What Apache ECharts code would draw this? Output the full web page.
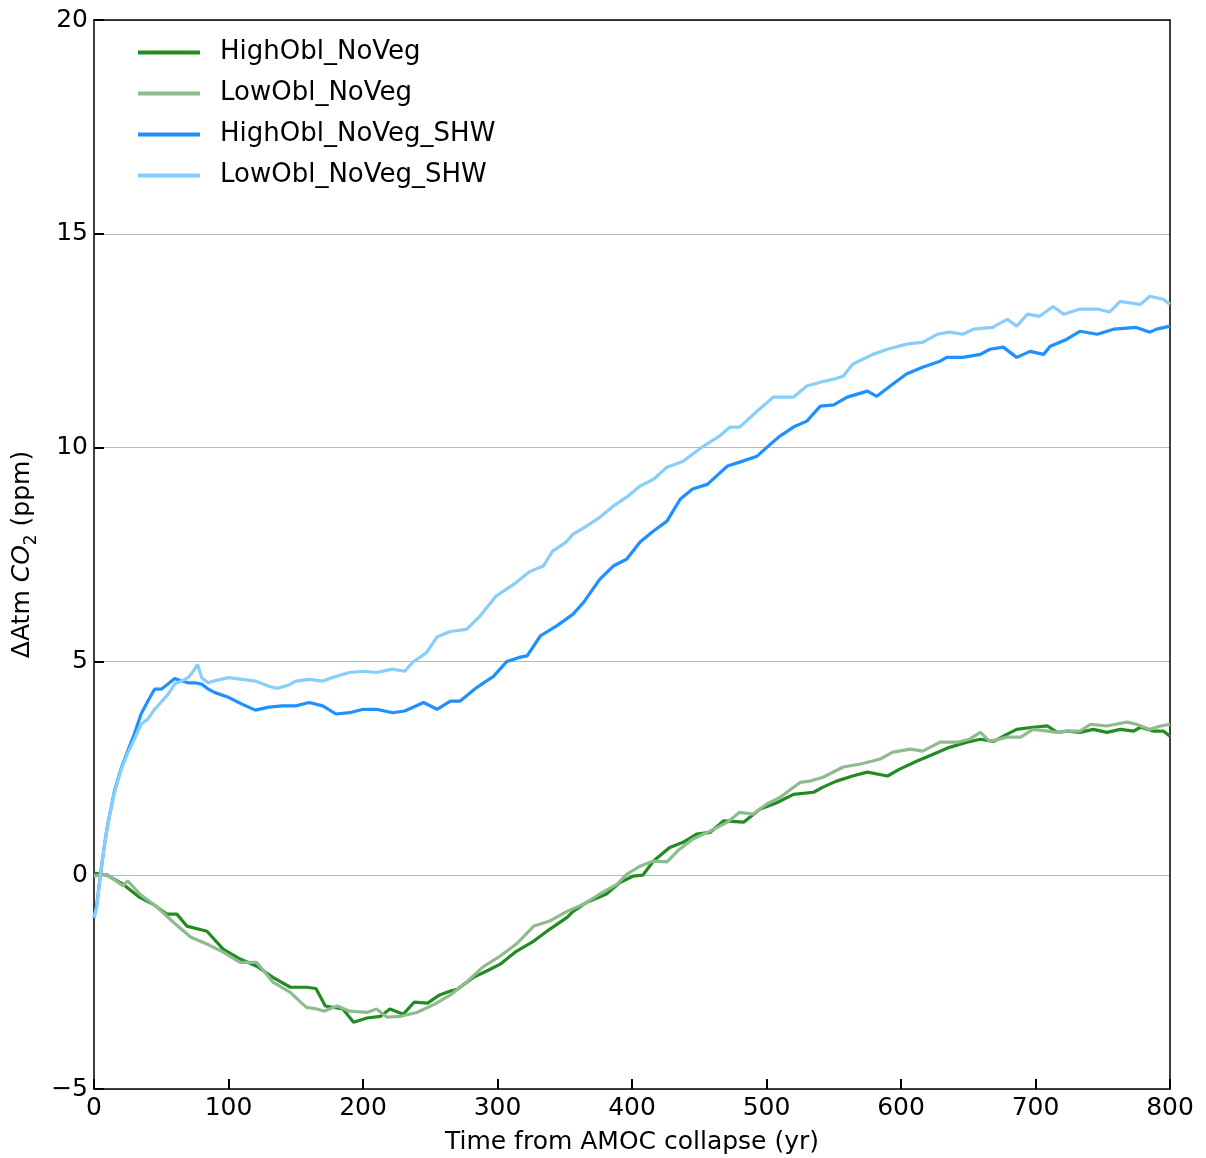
<!DOCTYPE html>
<html>
<head>
<meta charset="utf-8">
<script src="https://cdn.jsdelivr.net/npm/echarts@6/dist/echarts.min.js"></script>
<style>
  html, body { margin: 0; padding: 0; background: #fff; }
  #chart { width: 1206px; height: 1158px; }
</style>
</head>
<body>
<div id="chart"></div>
<script>
// Atmospheric CO2 anomaly after AMOC collapse, four model experiments.
const seriesNames = ['HighObl_NoVeg', 'LowObl_NoVeg', 'HighObl_NoVeg_SHW', 'LowObl_NoVeg_SHW'];
const seriesColors = ['#228b22', '#8fbc8f', '#1e90ff', '#87cefa'];

const xTicks = [0, 100, 200, 300, 400, 500, 600, 700, 800];
const yTicks = [-5, 0, 5, 10, 15, 20];

// HighObl_NoVeg
const highNoVegYears = [0, 9.5, 21.6, 34, 44, 54, 61.6, 69, 84, 96, 108.6, 121, 133, 146, 158, 165, 172, 185, 193, 203, 213, 220, 230, 238, 248, 257, 265, 270, 282, 292, 302, 314, 327, 339, 352, 356, 366, 381, 391, 401, 408, 416, 428, 438, 448, 458, 468, 483, 495, 508, 520, 535, 542, 552, 564, 575, 590, 599, 612, 624, 636, 649, 659, 669, 679, 686, 698, 709, 716, 724, 733, 743, 753, 763, 773, 778, 788, 795, 800];
const highNoVegValues = [0.05, 0, -0.21, -0.52, -0.68, -0.91, -0.91, -1.19, -1.31, -1.73, -1.96, -2.13, -2.39, -2.62, -2.62, -2.65, -3.06, -3.13, -3.44, -3.34, -3.3, -3.13, -3.25, -2.97, -2.99, -2.8, -2.71, -2.67, -2.39, -2.24, -2.08, -1.78, -1.54, -1.26, -0.98, -0.85, -0.64, -0.44, -0.17, -0.02, 0.0, 0.33, 0.65, 0.77, 0.96, 1.0, 1.27, 1.24, 1.54, 1.7, 1.89, 1.94, 2.06, 2.2, 2.32, 2.41, 2.32, 2.48, 2.67, 2.83, 2.99, 3.11, 3.18, 3.13, 3.3, 3.41, 3.46, 3.49, 3.34, 3.37, 3.34, 3.41, 3.34, 3.41, 3.37, 3.46, 3.37, 3.37, 3.25];

// LowObl_NoVeg
const lowNoVegYears = [0, 9.5, 21.6, 25, 34, 47, 59, 72, 84, 96, 108.6, 121, 133, 146, 153, 158, 166, 171, 178, 181, 190, 203, 210, 218, 228, 240, 253, 265, 277, 289, 302, 314, 327, 339, 352, 364, 376, 389, 396, 406, 416, 426, 434, 445, 458, 471, 480, 490, 500, 510, 525, 532, 542, 557, 570, 584, 594, 607, 616, 629, 642, 651, 659, 666, 679, 689, 698, 709, 716, 724, 733, 741, 753, 768, 775, 785, 793, 800];
const lowNoVegValues = [-0.02, 0.02, -0.25, -0.13, -0.44, -0.75, -1.1, -1.45, -1.61, -1.8, -2.04, -2.04, -2.5, -2.74, -2.95, -3.09, -3.13, -3.18, -3.09, -3.06, -3.18, -3.21, -3.13, -3.32, -3.3, -3.21, -3.02, -2.8, -2.5, -2.15, -1.89, -1.61, -1.19, -1.07, -0.84, -0.68, -0.44, -0.21, 0.02, 0.21, 0.33, 0.31, 0.57, 0.84, 1.03, 1.24, 1.47, 1.43, 1.66, 1.82, 2.17, 2.2, 2.29, 2.53, 2.6, 2.71, 2.88, 2.95, 2.9, 3.11, 3.11, 3.18, 3.34, 3.13, 3.23, 3.23, 3.41, 3.37, 3.34, 3.37, 3.37, 3.53, 3.49, 3.58, 3.53, 3.41, 3.49, 3.53];

// HighObl_NoVeg_SHW
const highShwYears = [0, 2, 4, 6, 8, 10, 15, 20, 25, 30, 35, 40, 45, 50, 55, 60, 65, 70, 75, 80, 85, 90, 100, 110, 120, 130, 140, 150, 160, 170, 180, 190, 200, 210, 222, 231, 245, 255, 265, 272, 285, 297, 307, 317, 322, 332, 344, 356, 364, 376, 386, 396, 406, 416, 426, 436, 445, 456, 471, 480, 493, 500, 510, 520, 530, 540, 550, 560, 575, 582, 592, 604, 616, 629, 634, 646, 659, 666, 676, 686, 696, 706, 711, 723, 733, 746, 758, 775, 785, 790, 800];
const highShwValues = [-1.0, -0.7, -0.2, 0.3, 0.75, 1.15, 1.94, 2.48, 2.9, 3.3, 3.77, 4.07, 4.35, 4.35, 4.47, 4.6, 4.54, 4.5, 4.5, 4.47, 4.35, 4.27, 4.16, 4.0, 3.86, 3.93, 3.96, 3.96, 4.04, 3.96, 3.77, 3.8, 3.88, 3.88, 3.8, 3.84, 4.04, 3.88, 4.07, 4.07, 4.4, 4.65, 5.0, 5.1, 5.13, 5.6, 5.83, 6.1, 6.38, 6.92, 7.23, 7.39, 7.79, 8.05, 8.28, 8.8, 9.03, 9.14, 9.57, 9.66, 9.8, 10.0, 10.27, 10.48, 10.62, 10.97, 11.0, 11.18, 11.32, 11.2, 11.44, 11.72, 11.88, 12.02, 12.11, 12.11, 12.18, 12.3, 12.35, 12.11, 12.25, 12.18, 12.37, 12.53, 12.72, 12.65, 12.77, 12.81, 12.7, 12.77, 12.84];

// LowObl_NoVeg_SHW
const lowShwYears = [0, 2, 4, 6, 8, 10, 15, 20, 25, 30, 35, 40, 45, 50, 55, 60, 65, 70, 75, 77, 80, 85, 90, 100, 110, 120, 130, 136, 145, 150, 160, 170, 180, 190, 200, 210, 222, 231, 237, 247, 255, 265, 277, 287, 299, 312, 324, 334, 341, 351, 356, 366, 376, 386, 396, 406, 416, 426, 438, 453, 465, 473, 480, 493, 505, 520, 530, 540, 550, 557, 564, 579, 590, 604, 616, 627, 636, 646, 654, 668, 679, 686, 694, 703, 713, 721, 733, 746, 755, 763, 778, 785, 795, 800];
const lowShwValues = [-1.0, -0.75, -0.2, 0.3, 0.75, 1.15, 1.9, 2.45, 2.85, 3.18, 3.53, 3.65, 3.88, 4.05, 4.23, 4.47, 4.54, 4.62, 4.82, 4.93, 4.62, 4.5, 4.55, 4.62, 4.58, 4.54, 4.42, 4.37, 4.45, 4.54, 4.58, 4.54, 4.65, 4.74, 4.77, 4.74, 4.82, 4.77, 4.98, 5.2, 5.57, 5.7, 5.75, 6.06, 6.53, 6.8, 7.1, 7.23, 7.58, 7.79, 7.97, 8.16, 8.37, 8.63, 8.84, 9.1, 9.26, 9.54, 9.68, 10.03, 10.27, 10.48, 10.48, 10.85, 11.18, 11.18, 11.44, 11.53, 11.6, 11.67, 11.95, 12.18, 12.3, 12.42, 12.46, 12.65, 12.7, 12.65, 12.77, 12.81, 13.0, 12.84, 13.12, 13.07, 13.3, 13.12, 13.24, 13.24, 13.17, 13.42, 13.35, 13.54, 13.47, 13.35];

const seriesYears = [highNoVegYears, lowNoVegYears, highShwYears, lowShwYears];
const seriesValues = [highNoVegValues, lowNoVegValues, highShwValues, lowShwValues];

const FONT = 'DejaVu Sans';
const minus = v => String(v).replace('-', '\u2212');

const chart = echarts.init(document.getElementById('chart'), null, { renderer: 'canvas' });

const option = {
  animation: false,
  backgroundColor: '#ffffff',
  textStyle: { fontFamily: FONT },
  grid: { left: 94, right: 36, top: 20, bottom: 69, containLabel: false, outerBoundsMode: 'none' },
  legend: {
    orient: 'vertical',
    left: 138,
    top: 37,
    padding: 0,
    itemWidth: 62,
    itemHeight: 4,
    itemGap: 10,
    icon: 'rect',
    data: seriesNames,
    textStyle: { fontFamily: FONT, fontSize: 26, color: '#000', lineHeight: 31, padding: [0, 0, 0, 15] }
  },
  xAxis: [{
    type: 'value',
    min: xTicks[0],
    max: xTicks[xTicks.length - 1],
    interval: 100,
    name: 'Time from AMOC collapse (yr)',
    nameLocation: 'middle',
    nameGap: 41,
    nameTextStyle: { fontFamily: FONT, fontSize: 25, color: '#000' },
    axisLine: { show: true, onZero: false, lineStyle: { color: '#000', width: 1.5 } },
    axisTick: { show: true, inside: true, length: 10, lineStyle: { color: '#000', width: 2 } },
    axisLabel: { fontFamily: FONT, fontSize: 25, color: '#000', margin: 7 },
    splitLine: { show: false }
  }, {
    type: 'value',
    position: 'top',
    min: xTicks[0],
    max: xTicks[xTicks.length - 1],
    axisLine: { show: true, onZero: false, lineStyle: { color: '#000', width: 1.5 } },
    axisTick: { show: false },
    axisLabel: { show: false },
    splitLine: { show: false }
  }],
  yAxis: [{
    type: 'value',
    min: yTicks[0],
    max: yTicks[yTicks.length - 1],
    interval: 5,
    name: '{a|\u0394Atm }{i|CO}{s|2}{a| (ppm)}',
    nameLocation: 'middle',
    nameGap: 55,
    nameRotate: 90,
    nameTextStyle: {
      fontFamily: FONT, fontSize: 25, color: '#000',
      rich: {
        a: { fontFamily: FONT, fontSize: 25, color: '#000', lineHeight: 30, verticalAlign: 'bottom' },
        i: { fontFamily: FONT, fontSize: 25, color: '#000', fontStyle: 'italic', lineHeight: 30, verticalAlign: 'bottom' },
        s: { fontFamily: FONT, fontSize: 17, color: '#000', lineHeight: 30, verticalAlign: 'bottom', padding: [0, 0, -5, 0] }
      }
    },
    axisLine: { show: true, onZero: false, lineStyle: { color: '#000', width: 1.5 } },
    axisTick: { show: true, inside: true, length: 10, lineStyle: { color: '#000', width: 2 } },
    axisLabel: { fontFamily: FONT, fontSize: 25, color: '#000', margin: 6, formatter: v => minus(v) },
    splitLine: { show: true, lineStyle: { color: '#b8b8b8', width: 1.2 } }
  }, {
    type: 'value',
    position: 'right',
    min: yTicks[0],
    max: yTicks[yTicks.length - 1],
    axisLine: { show: true, onZero: false, lineStyle: { color: '#000', width: 1.5 } },
    axisTick: { show: false },
    axisLabel: { show: false },
    splitLine: { show: false }
  }],
  series: seriesNames.map((name, k) => ({
    name: name,
    type: 'line',
    xAxisIndex: 0,
    yAxisIndex: 0,
    showSymbol: false,
    symbol: 'none',
    color: seriesColors[k],
    lineStyle: { color: seriesColors[k], width: 3.2 },
    data: seriesYears[k].map((t, i) => [t, seriesValues[k][i]]),
    z: 2 + k
  }))
};

chart.setOption(option);
</script>
</body>
</html>
